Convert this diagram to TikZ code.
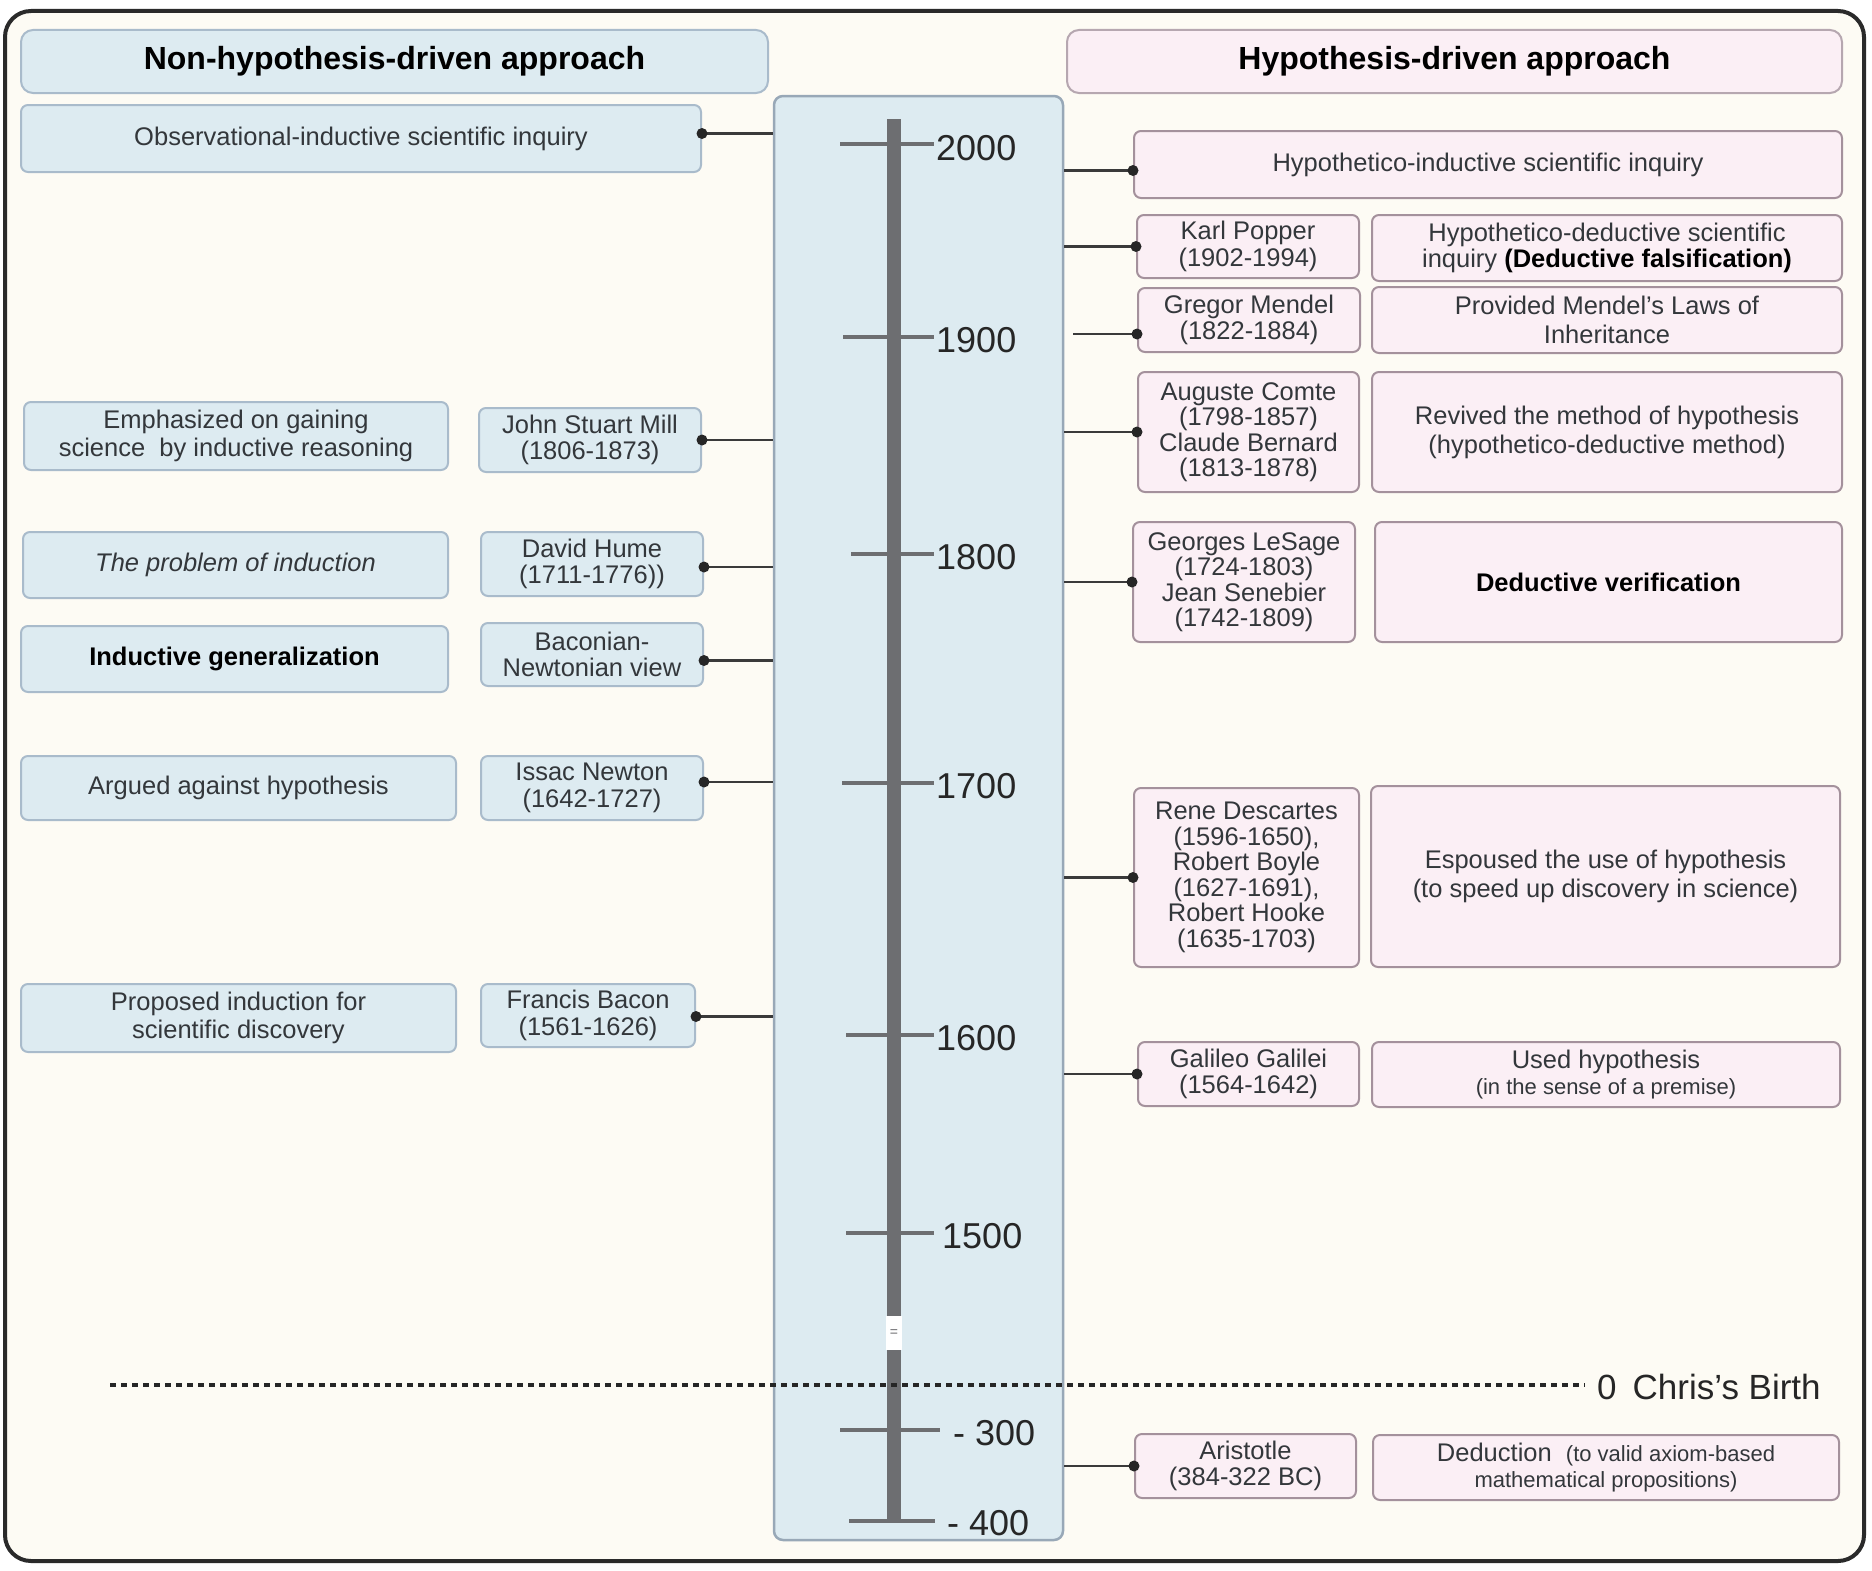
\documentclass[tikz,border=0pt]{standalone}
\usepackage{fontspec}
\setmainfont{Liberation Sans}
\definecolor{bgc}{HTML}{FDFBF4}
\definecolor{framec}{HTML}{2A2A2A}
\definecolor{lfill}{HTML}{DDEBF1}
\definecolor{lborder}{HTML}{A9BBCB}
\definecolor{rfill}{HTML}{FBEFF5}
\definecolor{rborder}{HTML}{A4919C}
\definecolor{txt}{HTML}{33373B}
\definecolor{barc}{HTML}{6D6E71}
\definecolor{connc}{HTML}{3A3A3A}
\tikzset{
  box/.style={rounded corners=7pt, line width=2pt, inner sep=0pt, align=center,
    text=txt, font=\fontsize{25.5}{26.5}\selectfont},
  lbox/.style={box, draw=lborder, fill=lfill},
  rbox/.style={box, draw=rborder, fill=rfill},
  hdr/.style={rounded corners=12pt, line width=2pt, inner sep=0pt, text=black,
    font=\fontsize{32}{36}\selectfont\bfseries},
  sz/.style 2 args={minimum width=#1pt, minimum height=#2pt},
  conn/.style={draw=connc, line width=2.2pt},
  dotc/.style={fill=black!85},
  tick/.style={draw=barc, line width=4pt},
  yr/.style={anchor=west, inner sep=0pt, text=black!85, font=\fontsize{36}{36}\selectfont},
}
\begin{document}
\begin{tikzpicture}[x=1pt,y=-1pt]
\useasboundingbox (0,0) rectangle (1872,1571);
\fill[white] (0,0) rectangle (1872,1571);
\draw[draw=framec, fill=bgc, line width=4pt, rounded corners=26pt] (5,11) rectangle (1864,1561);

% headers
\node[hdr, draw=lborder, fill=lfill, sz={747}{63}] (hdrL) at (394.5,61.5) {Non-hypothesis-driven approach};
\node[hdr, draw=rborder!80, fill=rfill, sz={775}{63}] (hdrR) at (1454.5,61.5) {Hypothesis-driven approach};

% timeline box
\node[draw=lborder!90!black, fill=lfill, line width=2.5pt, rounded corners=9pt, sz={289}{1444}, inner sep=0pt] (tl) at (918.5,818) {};

% ticks
\foreach \yy/\xa/\xb in {144/840/934, 337/843/934, 554/851/934, 783/842/934, 1035/846/934, 1233/846/934, 1430/840/940, 1521/849/935}
  \draw[tick] (\xa,\yy) -- (\xb,\yy);
% bar
\draw[draw=barc, line width=14pt] (894,119) -- (894,1523);
\fill[white] (886,1316) rectangle (902,1350);
\node[inner sep=0pt, text=barc, font=\fontsize{14}{14}\selectfont] (brk) at (894,1333) {=};

\node[yr] (y2000) at (936,148) {2000};
\node[yr] (y1900) at (936,340) {1900};
\node[yr] (y1800) at (936,557) {1800};
\node[yr] (y1700) at (936,786) {1700};
\node[yr] (y1600) at (936,1038) {1600};
\node[yr] (y1500) at (942,1236) {1500};
\node[yr] (ym300) at (953,1433) {- 300};
\node[yr] (ym400) at (947,1523) {- 400};

% left boxes
\node[lbox, sz={680}{67}] (obs) at (361,138.5) {Observational-inductive scientific inquiry};
\node[lbox, sz={424}{68}, font=\fontsize{25.5}{28.5}\selectfont] (emph) at (236,436) {Emphasized on gaining\\science\ \ by inductive reasoning};
\node[lbox, sz={222}{64}] (mill) at (590,440) {John Stuart Mill\\(1806-1873)};
\node[lbox, sz={425}{66}, font=\fontsize{25.5}{26.5}\selectfont\itshape] (prob) at (235.5,565) {The problem of induction};
\node[lbox, sz={222}{64}] (hume) at (592,564) {David Hume\\(1711-1776))};
\node[lbox, sz={427}{66}, text=black, font=\fontsize{25.5}{26.5}\selectfont\bfseries] (indg) at (234.5,659) {Inductive generalization};
\node[lbox, sz={222}{63}] (bacv) at (592,654.5) {Baconian-\\Newtonian view};
\node[lbox, sz={435}{64}] (argu) at (238.5,788) {Argued against hypothesis};
\node[lbox, sz={222}{64}] (newt) at (592,788) {Issac Newton\\(1642-1727)};
\node[lbox, sz={435}{68}, font=\fontsize{25.5}{28.5}\selectfont] (prop) at (238.5,1018) {Proposed induction for\\scientific discovery};
\node[lbox, sz={214}{63}] (bacon) at (588,1015.5) {Francis Bacon\\(1561-1626)};

% right boxes
\node[rbox, sz={708}{67}] (hind) at (1488,164.5) {Hypothetico-inductive scientific inquiry};
\node[rbox, sz={222}{63}] (pop) at (1248,246.5) {Karl Popper\\(1902-1994)};
\node[rbox, sz={470}{66}] (popd) at (1607,248) {Hypothetico-deductive scientific\\inquiry {\color{black}\bfseries(Deductive falsification)}};
\node[rbox, sz={222}{64}] (men) at (1249,320) {Gregor Mendel\\(1822-1884)};
\node[rbox, sz={470}{66}, font=\fontsize{25.5}{28.5}\selectfont] (mend) at (1607,320) {Provided Mendel's Laws of\\Inheritance};
\node[rbox, sz={221}{120}, font=\fontsize{25.5}{25.5}\selectfont] (com) at (1248.5,432) {Auguste Comte\\(1798-1857)\\Claude Bernard\\(1813-1878)};
\node[rbox, sz={470}{120}, font=\fontsize{25.5}{29}\selectfont] (comd) at (1607,432) {Revived the method of hypothesis\\(hypothetico-deductive method)};
\node[rbox, sz={222}{120}, font=\fontsize{25.5}{25.5}\selectfont] (les) at (1244,582) {Georges LeSage\\(1724-1803)\\Jean Senebier\\(1742-1809)};
\node[rbox, sz={467}{120}, text=black, font=\fontsize{25.5}{26.5}\selectfont\bfseries] (lesd) at (1608.5,582) {Deductive verification};
\node[rbox, sz={225}{179}, font=\fontsize{25.5}{25.5}\selectfont] (des) at (1246.5,877.5) {Rene Descartes\\(1596-1650),\\Robert Boyle\\(1627-1691),\\Robert Hooke\\(1635-1703)};
\node[rbox, sz={469}{181}, font=\fontsize{25.5}{29.5}\selectfont] (desd) at (1605.5,876.5) {Espoused the use of hypothesis\\(to speed up discovery in science)};
\node[rbox, sz={221}{64}] (gal) at (1248.5,1074) {Galileo Galilei\\(1564-1642)};
\node[rbox, sz={468}{65}] (gald) at (1606,1074.5) {Used hypothesis\\{\fontsize{22}{24}\selectfont(in the sense of a premise)}};
\node[rbox, sz={221}{64}] (ari) at (1245.5,1466) {Aristotle\\(384-322 BC)};
\node[rbox, sz={466}{65}] (arid) at (1606,1467.5) {Deduction\ \ {\fontsize{22}{24}\selectfont(to valid axiom-based}\\{\fontsize{22}{24}\selectfont mathematical propositions)}};

% connectors left (with small vertical offsets of the dots)
\foreach \n/\dy in {obs/5,mill/0,hume/-3,bacv/-6,newt/6,bacon/-1}{
  \coordinate (\n dot) at ([yshift=\dy pt]\n.east);
  \draw[conn] (\n dot) -- (\n dot -| tl.west);
  \fill[dotc] (\n dot) circle (5.5);
}
% connectors right
\foreach \n in {pop,com,les,des,gal,ari}{
  \draw[conn] (\n.west) -- (\n.west -| tl.east);
  \fill[dotc] (\n.west) circle (5.5);
}
\coordinate (hdot) at ([yshift=-6pt]hind.west);
\draw[conn] (hdot) -- (hdot -| tl.east);
\fill[dotc] (hdot) circle (5.5);
\coordinate (mdot) at ([yshift=-14pt]men.west);
\draw[conn] (mdot) -- ([xshift=9pt]mdot -| tl.east);
\fill[dotc] (mdot) circle (5.5);

% Chris's birth line
\node[anchor=west, inner sep=0pt, text=black!85, font=\fontsize{35}{35}\selectfont] (birth) at (1597,1387) {0\hspace{16pt}Chris's Birth};
\coordinate (dstart) at (110,1385);
\draw[draw=black!85, line width=3.5pt, dash pattern=on 6pt off 5pt] (dstart) -- ([xshift=-12pt]dstart -| birth.west);
\end{tikzpicture}
\end{document}
